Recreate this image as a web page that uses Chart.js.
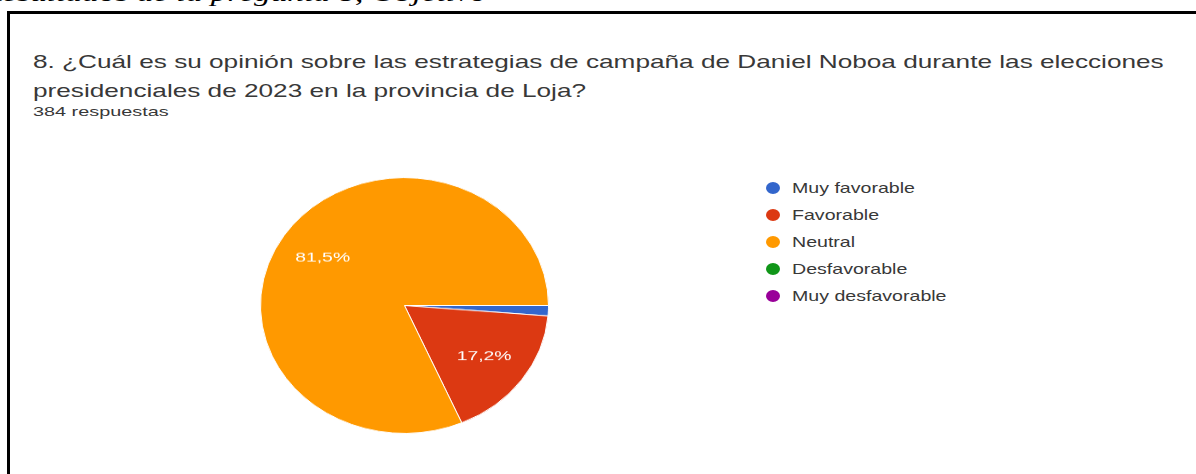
<!DOCTYPE html>
<html lang="es">
<head>
<meta charset="utf-8">
<title>Estrategias de campaña de Daniel Noboa - Loja</title>
<script src="https://cdn.jsdelivr.net/npm/chart.js@4.4.1/dist/chart.umd.min.js"></script>
<style>
  html, body { margin: 0; padding: 0; width: 1196px; height: 474px; overflow: hidden; background: #fff; }
  body { position: relative; font-family: "Liberation Sans", Arial, sans-serif; }

  /* texto del documento, cortado arriba */
  .encabezado {
    position: absolute; left: -18px; top: -18px;
    font: italic 23px/23px "Liberation Serif", "Times New Roman", serif;
    color: #000; white-space: nowrap;
    transform: scaleX(1.45); transform-origin: left top;
  }
  .marco {
    position: absolute; left: 7px; top: 11px; width: 1210px; height: 490px;
    border: 3px solid #000; box-sizing: border-box;
  }
  .titulo {
    position: absolute; left: 33px; top: 47px;
    font-size: 18.5px; line-height: 29px; color: #383838; white-space: nowrap;
    transform: scaleX(1.415); transform-origin: left top;
  }
  .respuestas {
    position: absolute; left: 33px; top: 104px;
    font-size: 13.5px; line-height: 16px; color: #383838; white-space: nowrap;
    transform: scaleX(1.47); transform-origin: left top;
  }
  .torta {
    position: absolute; left: 260px; top: 161px; width: 289px; height: 289px;
    transform: scaleY(0.888); transform-origin: center center;
  }
  #leyenda { position: absolute; left: 766px; top: 175px; margin: 0; padding: 0; list-style: none; }
  #leyenda li { position: relative; height: 27px; }
  #leyenda .punto {
    position: absolute; left: 0; top: 7px; width: 14px; height: 12px; border-radius: 50%;
  }
  #leyenda .texto {
    position: absolute; left: 26px; top: 4px;
    font-size: 14.5px; line-height: 18px; color: #383838; white-space: nowrap;
    transform: scaleX(1.35); transform-origin: left top;
  }
</style>
</head>
<body>

<div class="encabezado">Resultados de la pregunta 8, Objetivo</div>
<div class="marco"></div>

<div class="titulo">8. ¿Cuál es su opinión sobre las estrategias de campaña de Daniel Noboa durante las elecciones<br>presidenciales de 2023 en la provincia de Loja?</div>
<div class="respuestas">384 respuestas</div>

<div class="torta"><canvas id="grafico" width="289" height="289"></canvas></div>
<ul id="leyenda"></ul>

<script>
// respuestas por opción (total 384)
const opciones = ['Muy favorable', 'Favorable', 'Neutral', 'Desfavorable', 'Muy desfavorable'];
const respuestas = [5, 66, 313, 0, 0];
const colores = ['#3366cc', '#dc3912', '#ff9900', '#109618', '#990099'];

const total = respuestas.reduce((a, b) => a + b, 0);

// porcentajes escritos dentro de cada porción (solo las grandes)
const etiquetasPorcentaje = {
    id: 'etiquetasPorcentaje',
    afterDatasetsDraw(chart) {
        const ctx = chart.ctx;
        const meta = chart.getDatasetMeta(0);
        meta.data.forEach((arco, i) => {
            const valor = respuestas[i];
            const pct = valor / total * 100;
            if (pct < 5) return;
            const p = arco.getProps(['x', 'y', 'startAngle', 'endAngle', 'outerRadius'], true);
            const medio = (p.startAngle + p.endAngle) / 2;
            const r = p.outerRadius * 0.68;
            const x = p.x + Math.cos(medio) * r;
            const y = p.y + Math.sin(medio) * r;
            ctx.save();
            ctx.translate(x, y);
            ctx.scale(1.25, 1);
            ctx.fillStyle = '#fff';
            ctx.font = '15.5px "Liberation Sans", Arial, sans-serif';
            ctx.textAlign = 'center';
            ctx.textBaseline = 'middle';
            ctx.fillText(pct.toFixed(1).replace('.', ',') + '%', 0, 0);
            ctx.restore();
        });
    }
};

const grafico = new Chart(document.getElementById('grafico'), {
    type: 'pie',
    data: {
        labels: opciones,
        datasets: [{
            data: respuestas,
            backgroundColor: colores,
            borderColor: '#fff',
            borderWidth: 1,
            hoverOffset: 0
        }]
    },
    options: {
        responsive: false,
        animation: false,
        rotation: 90,
        layout: { padding: 0 },
        plugins: {
            legend: { display: false },
            tooltip: { enabled: false }
        }
    },
    plugins: [etiquetasPorcentaje]
});

// leyenda a la derecha, armada con los datos del gráfico
const leyenda = document.getElementById('leyenda');
grafico.data.labels.forEach((nombre, i) => {
    const li = document.createElement('li');
    const punto = document.createElement('span');
    punto.className = 'punto';
    punto.style.background = grafico.data.datasets[0].backgroundColor[i];
    const texto = document.createElement('span');
    texto.className = 'texto';
    texto.textContent = nombre;
    li.appendChild(punto);
    li.appendChild(texto);
    leyenda.appendChild(li);
});
</script>
</body>
</html>
